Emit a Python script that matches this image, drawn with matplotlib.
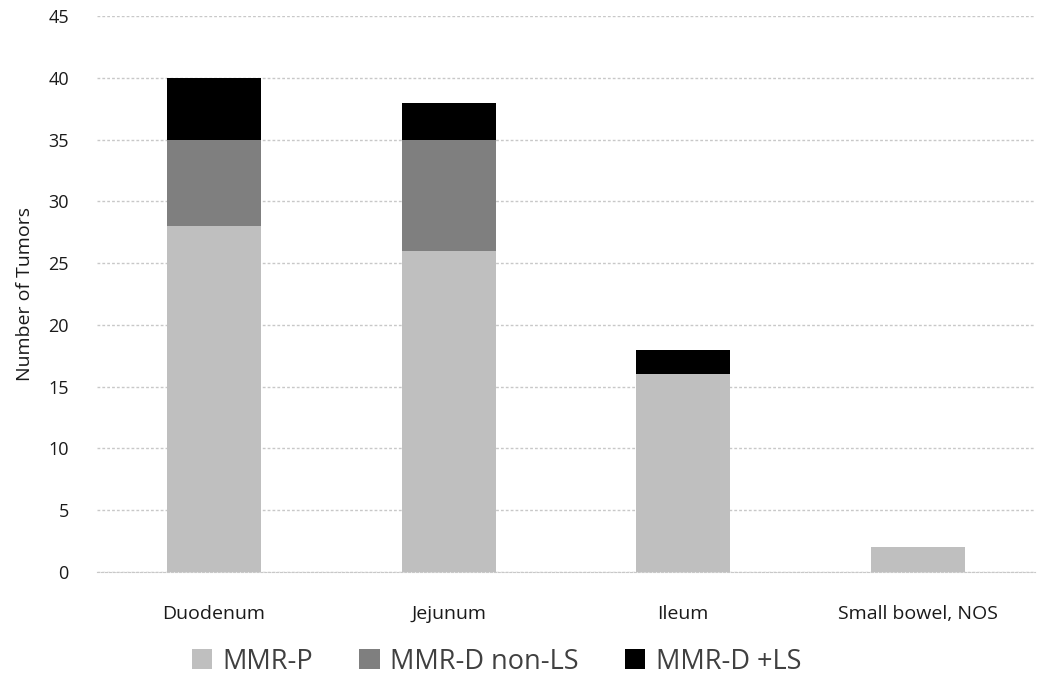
import matplotlib.pyplot as plt
import numpy as np

plt.rcParams['font.family'] = ['Open Sans', 'DejaVu Sans']

categories = ['Duodenum', 'Jejunum', 'Ileum', 'Small bowel, NOS']
mmr_p = [28, 26, 16, 2]
mmr_d_non_ls = [7, 9, 0, 0]
mmr_d_ls = [5, 3, 2, 0]
series_labels = ['MMR-P', 'MMR-D non-LS', 'MMR-D +LS']
colors = ['#bfbfbf', '#7f7f7f', '#000000']

fig = plt.figure(figsize=(10.5, 6.98), dpi=100)
ax = fig.add_axes([0.092, 0.1805, 0.894, 0.7965])

x = np.arange(len(categories))
bottom = np.zeros(len(categories))
handles = []
for vals, lab, col in zip([mmr_p, mmr_d_non_ls, mmr_d_ls], series_labels, colors):
    b = ax.bar(x, vals, width=0.4, bottom=bottom, color=col, label=lab, zorder=3)
    handles.append(b)
    bottom += np.array(vals)

ax.set_xlim(-0.5, 3.5)
ax.set_ylim(0, 45)
ax.set_yticks(np.arange(0, 46, 5))
ax.yaxis.grid(True, color='#c8c8c8', linestyle=(0, (2, 1.5)), linewidth=1, zorder=0)
ax.set_xticks(x)
ax.set_xticklabels(categories, fontsize=14)
ax.tick_params(axis='y', labelsize=13, length=0, pad=20, colors='#1a1a1a')
ax.tick_params(axis='x', length=0, pad=24, colors='#1a1a1a')
for s in ['top', 'right', 'left']:
    ax.spines[s].set_visible(False)
ax.spines['bottom'].set_color('#c8c8c8')
ax.spines['bottom'].set_linestyle((0, (2, 1.5)))
ax.set_ylabel('Number of Tumors', fontsize=14, color='#1a1a1a', labelpad=10)

fig.legend(handles=handles, labels=series_labels, loc='center', bbox_to_anchor=(0.473, 0.052),
           ncol=3, frameon=False, fontsize=19.5, handlelength=0.75, handleheight=0.75,
           handletextpad=0.4, columnspacing=1.7, labelcolor='#404040')

fig.savefig('out.png', dpi=100)
